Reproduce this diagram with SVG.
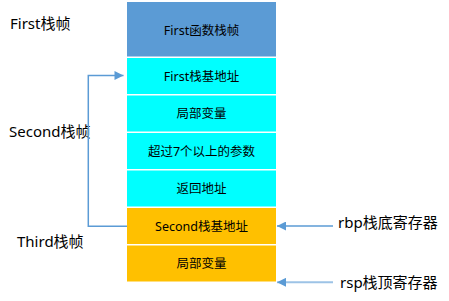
<svg xmlns="http://www.w3.org/2000/svg" width="449" height="301" viewBox="0 0 449 301">
  <style>
    .lbl { font-family: "Noto Sans", "Noto Sans CJK SC", sans-serif; font-size: 15px; fill: #000; }
    .cell { font-family: "Noto Sans", "Noto Sans CJK SC", sans-serif; font-size: 12.5px; fill: #000; text-anchor: middle; }
    .blue { fill: #5B9BD5; }
    .cyan { fill: #00FFFF; }
    .orange { fill: #FFC000; }
    .link { fill: none; stroke: #5B9BD5; stroke-width: 1.5; }
    .link-light { fill: none; stroke: #9DC3E6; stroke-width: 2; }
  </style>
  <defs>
    <marker id="arrow" viewBox="0 0 10 10" refX="10" refY="5" markerWidth="10" markerHeight="9" markerUnits="userSpaceOnUse" orient="auto">
      <path d="M0,0 L10,5 L0,10 z" fill="#5B9BD5"/>
    </marker>
  </defs>

  <rect width="449" height="301" fill="#fff"/>

  <!-- stack cells -->
  <g id="first-frame"><rect class="blue" x="127" y="2" width="149" height="54.5"/><text class="cell" x="201.5" y="34.5">First函数栈帧</text></g>
  <g id="first-base"><rect class="cyan" x="127" y="58" width="149" height="36"/><text class="cell" x="201.5" y="80.5">First栈基地址</text></g>
  <g id="second-locals"><rect class="cyan" x="127" y="95.5" width="149" height="36"/><text class="cell" x="201.5" y="118">局部变量</text></g>
  <g id="second-args"><rect class="cyan" x="127" y="133" width="149" height="36"/><text class="cell" x="201.5" y="155.5">超过7个以上的参数</text></g>
  <g id="second-ret"><rect class="cyan" x="127" y="170.5" width="149" height="36"/><text class="cell" x="201.5" y="193">返回地址</text></g>
  <g id="second-base"><rect class="orange" x="127" y="208" width="149" height="36"/><text class="cell" x="201.5" y="230.5">Second栈基地址</text></g>
  <g id="third-locals"><rect class="orange" x="127" y="245.5" width="149" height="36"/><text class="cell" x="201.5" y="268">局部变量</text></g>

  <!-- side labels -->
  <g id="label-first"><text class="lbl" x="10" y="28.5">First栈帧</text></g>
  <g id="label-second"><text class="lbl" x="9" y="137">Second栈帧</text></g>
  <g id="label-third"><text class="lbl" x="17" y="247">Third栈帧</text></g>
  <g id="label-rbp"><text class="lbl" x="338" y="228">rbp栈底寄存器</text></g>
  <g id="label-rsp"><text class="lbl" x="340" y="288">rsp栈顶寄存器</text></g>

  <!-- connectors -->
  <g id="connectors">
    <path class="link" d="M127,226.3 H88.3 V75.5 H123.5" marker-end="url(#arrow)"/>
    <path class="link" d="M333,226 H277" marker-end="url(#arrow)"/>
    <path class="link-light" d="M333,282.3 H277" marker-end="url(#arrow)"/>
  </g>
</svg>
